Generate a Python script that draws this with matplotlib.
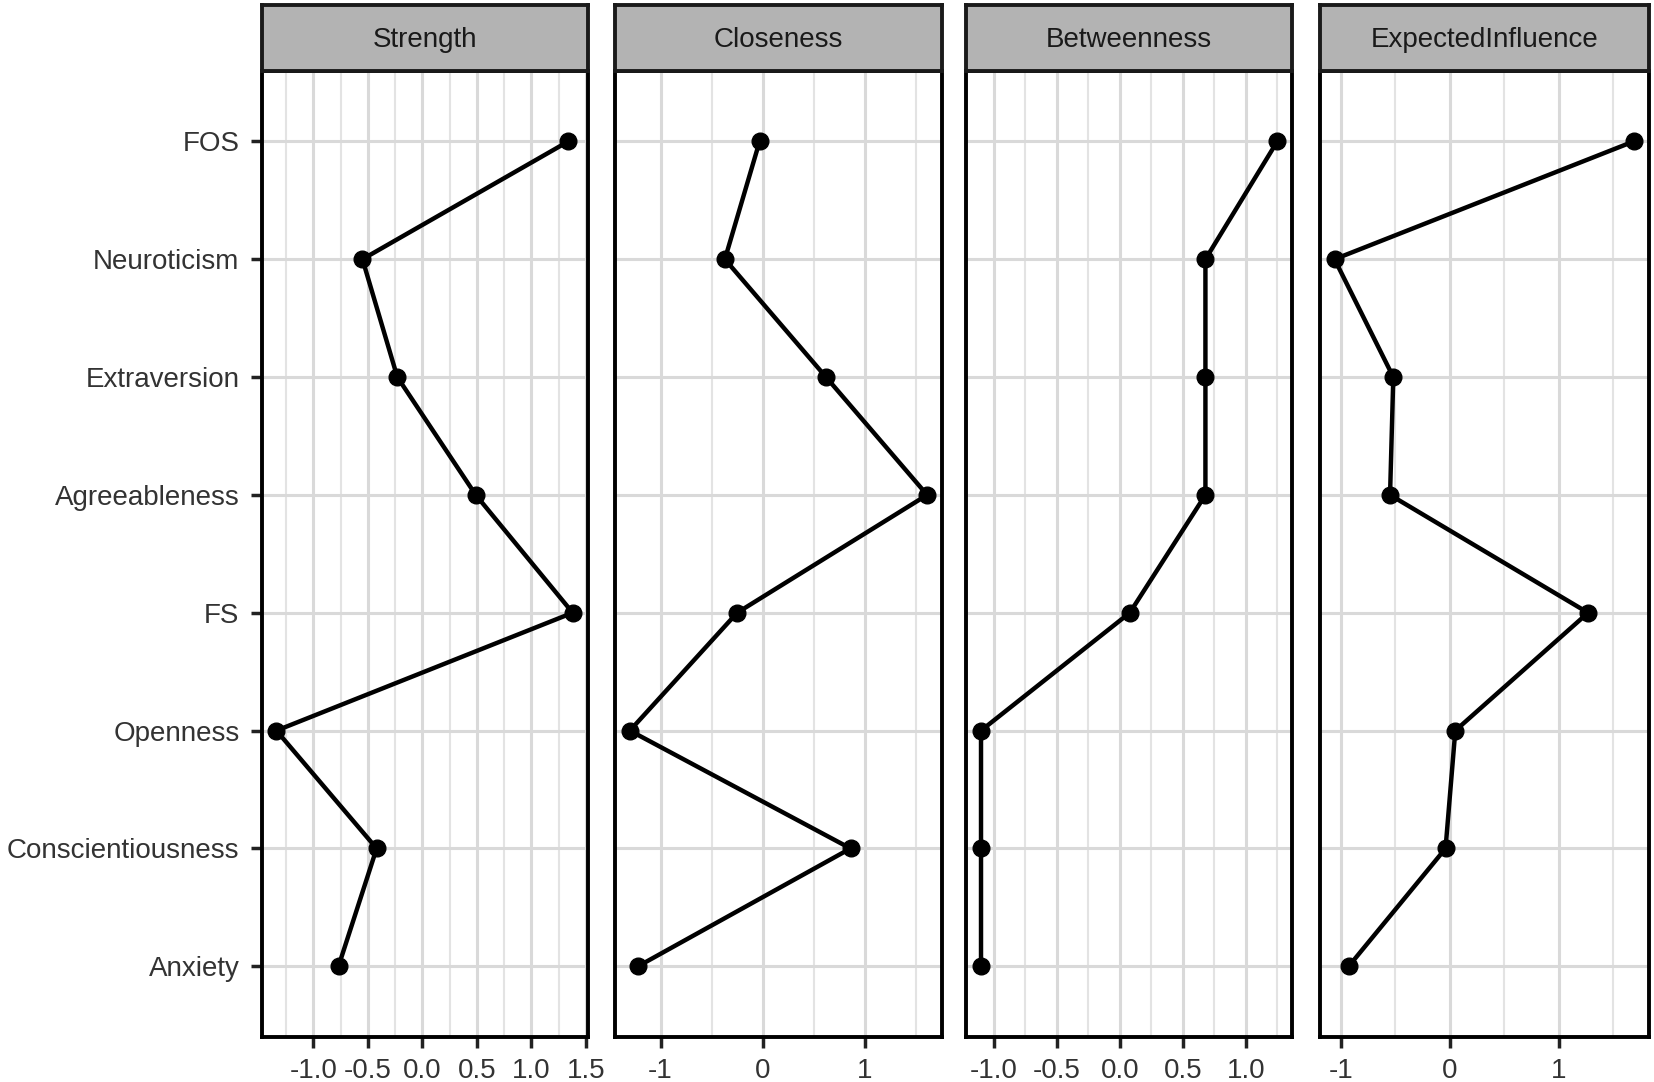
import numpy as np
import matplotlib
matplotlib.use("Agg")
import matplotlib.pyplot as plt
from matplotlib.ticker import MultipleLocator

plt.rcParams["font.family"] = ["Liberation Sans", "DejaVu Sans"]

nodes = ["FOS", "Neuroticism", "Extraversion", "Agreeableness",
         "FS", "Openness", "Conscientiousness", "Anxiety"]

strength = [1.34, -0.55, -0.23, 0.49, 1.38, -1.34, -0.42, -0.77]
closeness = [-0.03, -0.37, 0.62, 1.61, -0.25, -1.30, 0.86, -1.22]
betweenness = [1.25, 0.68, 0.68, 0.68, 0.08, -1.10, -1.10, -1.10]
expected_influence = [1.69, -1.06, -0.52, -0.55, 1.27, 0.05, -0.04, -0.93]

titles = ["Strength", "Closeness", "Betweenness", "ExpectedInfluence"]
series = [strength, closeness, betweenness, expected_influence]
major_step = [0.5, 1.0, 0.5, 1.0]
tick_fmt = ["{:.1f}", "{:.0f}", "{:.1f}", "{:.0f}"]

W, H = 1654, 1082
fig = plt.figure(figsize=(W / 100, H / 100), dpi=100)

# panel edges in pixels
lefts = [261.6, 615.0, 966.2, 1319.6]
rights = [587.5, 942.0, 1292.1, 1648.7]
top_px, bot_px, strip_top = 70.7, 1037.0, 5.3

n = len(nodes)
ypos = np.arange(n)[::-1]
label_col = "#333333"

for i, (title, vals) in enumerate(zip(titles, series)):
    l, r = lefts[i], rights[i]
    ax = fig.add_axes([l / W, 1 - bot_px / H, (r - l) / W, (bot_px - top_px) / H])
    vals = np.array(vals)
    lo, hi = vals.min(), vals.max()
    pad = 0.05 * (hi - lo)
    ax.set_xlim(lo - pad, hi + pad)
    ax.set_ylim(-0.6, n - 1 + 0.6)

    ax.xaxis.set_major_locator(MultipleLocator(major_step[i]))
    ax.xaxis.set_minor_locator(MultipleLocator(major_step[i] / 2))
    ax.grid(True, which="major", color="#d9d9d9", linewidth=2.2, zorder=0)
    ax.grid(True, which="minor", axis="x", color="#e3e3e3", linewidth=1.5, zorder=0)
    ax.set_axisbelow(True)

    ax.plot(vals, ypos, color="black", linewidth=3.2, marker="o",
            markersize=12, zorder=3, solid_capstyle="round")

    ax.set_yticks(ypos)
    if i == 0:
        ax.set_yticklabels(nodes, fontsize=20, color=label_col)
        ax.tick_params(axis="y", length=8, width=2.5, color="#222222", pad=8)
    else:
        ax.set_yticklabels([])
        ax.tick_params(axis="y", length=0)

    ticks = [t for t in ax.get_xticks() if lo - pad <= t <= hi + pad + 1e-9]
    ax.set_xticks(ticks)
    ax.set_xticklabels([tick_fmt[i].format(t).replace("-0.0", "0.0") for t in ticks],
                       fontsize=20, color=label_col)
    ax.tick_params(axis="x", which="major", length=8, width=2.5, color="#222222", pad=7)
    ax.tick_params(axis="x", which="minor", length=0)

    for sp in ax.spines.values():
        sp.set_linewidth(2.8)
        sp.set_color("black")

    # strip
    sax = fig.add_axes([l / W, 1 - top_px / H, (r - l) / W, (top_px - strip_top) / H])
    sax.set_facecolor("#b3b3b3")
    sax.set_xticks([])
    sax.set_yticks([])
    for sp in sax.spines.values():
        sp.set_linewidth(2.8)
        sp.set_color("#1a1a1a")
    sax.text(0.5, 0.47, title, ha="center", va="center", fontsize=20,
             color="#1a1a1a", transform=sax.transAxes)

fig.savefig("out.png", dpi=100)
